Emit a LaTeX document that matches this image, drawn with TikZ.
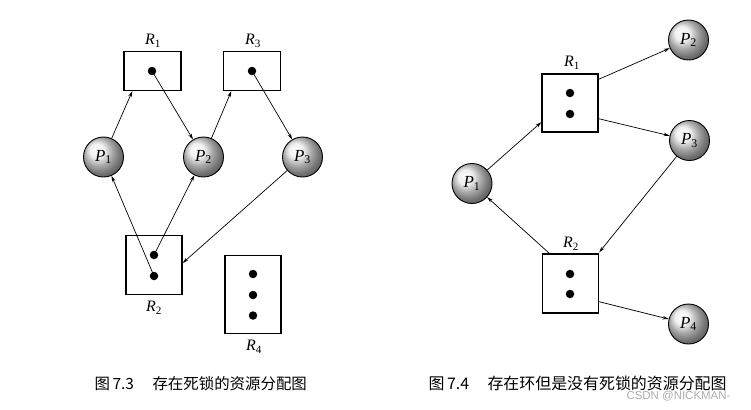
\documentclass[tikz,border=0pt]{standalone}
\usepackage{fontspec}
\newfontfamily\cjk{Noto Sans CJK SC}
\newfontfamily\wmfont{Liberation Sans}
\newfontfamily\lbf{Liberation Serif}
\newcommand\labsub[2]{{\lbf\itshape #1}\textsubscript{\lbf #2}}
\usetikzlibrary{arrows.meta,calc,shadings}
\begin{document}
\begin{tikzpicture}[x=1bp,y=-1bp,
  proc/.style={circle,draw=black,line width=0.9bp,minimum size=40bp,inner sep=0pt,shading=ball,ball color=gray!16,font=\fontsize{17}{18}\selectfont},
  res/.style={draw=black,line width=1.4bp,inner sep=0pt},
  tok/.style={circle,fill=black,minimum size=8.5bp,inner sep=0pt},
  lbl/.style={font=\fontsize{16}{18}\selectfont},
  edge/.style={line width=0.7bp,-{Stealth[length=6bp,width=3.5bp]}},
  captext/.style={anchor=west,font=\cjk\fontsize{15.5}{17}\selectfont}]
\useasboundingbox (0,0) rectangle (751,409);
% ---------- left figure ----------
\node[res,minimum width=57bp,minimum height=39bp] (R1) at (152.5,71) {};
\node[res,minimum width=57bp,minimum height=39bp] (R3) at (252,71) {};
\node[res,minimum width=56bp,minimum height=59bp] (R2) at (154,265) {};
\node[res,minimum width=56bp,minimum height=78bp] (R4) at (253,294.5) {};
\node[tok] (r1d) at (152,71) {};
\node[tok] (r3d) at (252,71) {};
\node[tok] (r2a) at (154,255) {};
\node[tok] (r2b) at (154,276) {};
\node[tok] (r4a) at (253,274) {};
\node[tok] (r4b) at (253,295) {};
\node[tok] (r4c) at (253,315.5) {};
\node[lbl] (lR1) at (153,41) {\labsub{R}{1}};
\node[lbl] (lR3) at (253,41) {\labsub{R}{3}};
\node[lbl] (lR2) at (154,308) {\labsub{R}{2}};
\node[lbl] (lR4) at (254,347) {\labsub{R}{4}};
\node[proc] (P1) at (103.5,157) {\labsub{P}{1}};
\node[proc] (P2) at (203.5,157) {\labsub{P}{2}};
\node[proc] (P3) at (302.5,157) {\labsub{P}{3}};
\draw[edge] (P1) -- ($(R1.south west)+(9,0)$);
\draw[edge] (r1d.center) -- (P2);
\draw[edge] (P2) -- ($(R3.south west)+(8.5,0)$);
\draw[edge] (r3d.center) -- (P3);
\draw[edge] (r2b.center) -- (P1);
\draw[edge] (r2a.center) -- (P2);
\draw[edge] (P3) -- ($(R2.east)+(0,-2)$);
% ---------- right figure ----------
\node[res,minimum width=56bp,minimum height=58bp] (Q1) at (570,103) {};
\node[res,minimum width=56bp,minimum height=59bp] (Q2) at (570.5,283.5) {};
\node[tok] (q1a) at (570,93) {};
\node[tok] (q1b) at (570,114) {};
\node[tok] (q2a) at (570,274) {};
\node[tok] (q2b) at (570,294) {};
\node[lbl] (lQ1) at (572,63) {\labsub{R}{1}};
\node[lbl] (lQ2) at (571,244) {\labsub{R}{2}};
\node[proc] (S1) at (472,183.5) {\labsub{P}{1}};
\node[proc] (S2) at (688.5,40) {\labsub{P}{2}};
\node[proc] (S3) at (689.5,140.5) {\labsub{P}{3}};
\node[proc] (S4) at (688.5,324) {\labsub{P}{4}};
\draw[edge] (S1) -- ($(Q1.south west)+(0,-10.5)$);
\draw[edge] ($(Q1.north east)+(0,6)$) -- (S2);
\draw[edge] ($(Q1.south east)+(0,-14)$) -- (S3);
\draw[edge] (S3) -- ($(Q2.north east)+(0,-1)$);
\draw[edge] ($(Q2.north west)+(7.5,0)$) -- (S1);
\draw[edge] ($(Q2.south east)+(0,-12)$) -- (S4);
% ---------- captions ----------
\node[captext] (c1) at (91,384) {\makebox[58bp][l]{图\,7.3}存在死锁的资源分配图};
\node[captext,font=\cjk\fontsize{16}{17}\selectfont] (c2) at (425,383) {\makebox[59bp][l]{图\,7.4}存在环但是没有死锁的资源分配图};
\node[anchor=west,text=gray!65,font=\wmfont\fontsize{11.5}{12}\selectfont] (wm) at (623,396) {CSDN @NICKMAN-};
\end{tikzpicture}
\end{document}
